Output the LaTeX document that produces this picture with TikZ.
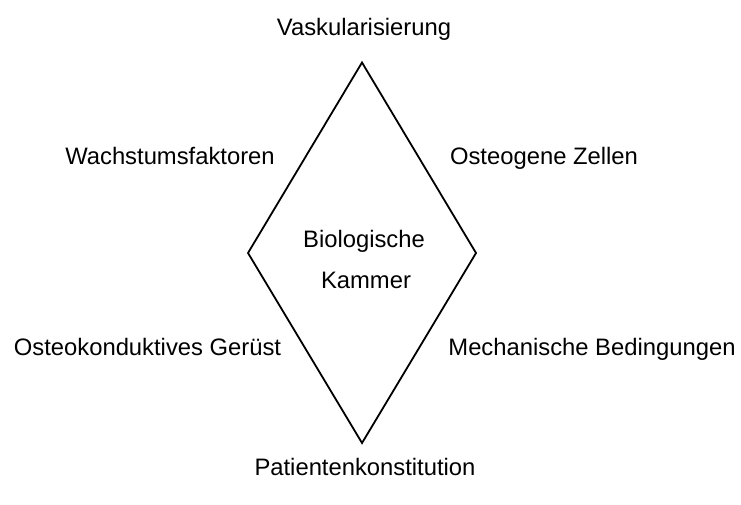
\documentclass[tikz,border=0pt]{standalone}
\usepackage{fontspec}
\setmainfont{Liberation Sans}
\begin{document}
\begin{tikzpicture}[x=1pt,y=-1pt,
  lbl/.style={anchor=base,inner sep=0pt,font=\fontsize{23.8}{28}\selectfont},
  edge/.style={line width=1.8pt,line join=miter}]
\useasboundingbox (0,0) rectangle (741,505);
\coordinate (top) at (362,62.5);
\coordinate (right) at (476,253);
\coordinate (bottom) at (362,443);
\coordinate (left) at (248,253);
\draw[edge] (top) -- (right) -- (bottom) -- (left) -- cycle;
\node[lbl] (vask) at (364,36) {Vaskularisierung};
\node[lbl] (wachs) at (170,165) {Wachstumsfaktoren};
\node[lbl] (osteo) at (544,165) {Osteogene Zellen};
\node[lbl] (bio) at (364,247) {Biologische};
\node[lbl] (kam) at (366,288) {Kammer};
\node[lbl] (gerust) at (147.5,355) {Osteokonduktives Gerüst};
\node[lbl] (mech) at (592,355) {Mechanische Bedingungen};
\node[lbl] (pat) at (365,475) {Patientenkonstitution};
\end{tikzpicture}
\end{document}
